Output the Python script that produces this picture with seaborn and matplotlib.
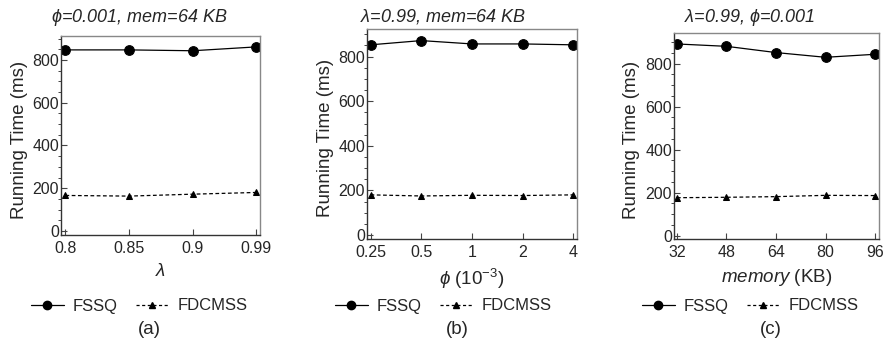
"""
Running time of FSSQ vs FDCMSS under varying lambda, phi and memory.
"""

import numpy as np
import pandas as pd
import matplotlib
matplotlib.use("Agg")
import matplotlib.pyplot as plt
import seaborn as sns
from matplotlib.ticker import MultipleLocator
from matplotlib.lines import Line2D

# panel (a): varying lambda
lam_labels = ["0.8", "0.85", "0.9", "0.99"]
lam_fssq = [847, 847, 843, 861]
lam_fdcmss = [166, 163, 172, 180]

# panel (b): varying phi
phi_labels = ["0.25", "0.5", "1", "2", "4"]
phi_fssq = [853, 872, 857, 857, 853]
phi_fdcmss = [180, 175, 178, 177, 180]

# panel (c): varying memory
mem_labels = ["32", "48", "64", "80", "96"]
mem_fssq = [891, 880, 851, 829, 843]
mem_fdcmss = [176, 178, 181, 187, 186]

sns.set_style("ticks")
plt.rcParams["font.family"] = ["Liberation Sans", "DejaVu Sans"]
plt.rcParams["mathtext.fontset"] = "custom"
plt.rcParams["mathtext.rm"] = "Liberation Sans"
plt.rcParams["mathtext.it"] = "Liberation Sans:italic"
plt.rcParams["mathtext.fallback"] = "stixsans"

TICK_FS = 11.5
LABEL_FS = 13.5
TITLE_FS = 13
LEG_FS = 12
CAP_FS = 13.5

W, H = 883, 347

panels = [
    dict(labels=lam_labels, fssq=lam_fssq, fdcmss=lam_fdcmss,
         title=r"$\phi$=0.001, mem=64 KB", xlabel=r"$\lambda$",
         box=(61, 36, 260, 235), ylim=(-19, 912), xlim=(-0.07, 3.06),
         cap="(a)", leg_x=139, cap_x=149, ylab_x=20),
    dict(labels=phi_labels, fssq=phi_fssq, fdcmss=phi_fdcmss,
         title=r"$\lambda$=0.99, mem=64 KB", xlabel=r"$\phi\ (10^{-3})$",
         box=(367, 29, 577, 239), ylim=(-18, 924), xlim=(-0.07, 4.07),
         cap="(b)", leg_x=443, cap_x=457, ylab_x=326),
    dict(labels=mem_labels, fssq=mem_fssq, fdcmss=mem_fdcmss,
         title=r"$\lambda$=0.99, $\phi$=0.001", xlabel=r"$memory$ (KB)",
         box=(674, 33, 879, 239), ylim=(-16, 942), xlim=(-0.06, 4.08),
         cap="(c)", leg_x=750, cap_x=771, ylab_x=631),
]

fig = plt.figure(figsize=(W / 100, H / 100), dpi=100)

for p in panels:
    x0, y0, x1, y1 = p["box"]
    ax = fig.add_axes([x0 / W, 1 - y1 / H, (x1 - x0) / W, (y1 - y0) / H])
    n = len(p["labels"])
    df = pd.DataFrame({
        "pos": list(range(n)) * 2,
        "time": p["fssq"] + p["fdcmss"],
        "method": ["FSSQ"] * n + ["FDCMSS"] * n,
    })
    sns.lineplot(data=df[df.method == "FSSQ"], x="pos", y="time", ax=ax,
                 color="black", lw=0.9, marker="o", markersize=7,
                 markeredgecolor="black", legend=False)
    sns.lineplot(data=df[df.method == "FDCMSS"], x="pos", y="time", ax=ax,
                 color="black", lw=0.9, linestyle=(0, (3, 2)), marker="^",
                 markersize=5, markeredgecolor="black", legend=False)

    ax.set_xlim(*p["xlim"])
    ax.set_ylim(*p["ylim"])
    ax.set_xticks(range(n))
    ax.set_xticklabels(p["labels"])
    ax.set_yticks([0, 200, 400, 600, 800])
    ax.yaxis.set_minor_locator(MultipleLocator(50))
    ax.tick_params(axis="both", direction="in", labelsize=TICK_FS,
                   color="#444444")
    ax.tick_params(axis="y", which="major", length=4, width=0.8, pad=1.5)
    ax.tick_params(axis="y", which="minor", length=2, width=0.6)
    ax.tick_params(axis="x", which="major", length=4, width=0.8, pad=4)
    for side in ["left", "bottom"]:
        ax.spines[side].set_color("#333333")
        ax.spines[side].set_linewidth(1.0)
    for side in ["top", "right"]:
        ax.spines[side].set_color("#888888")
        ax.spines[side].set_linewidth(1.0)

    ax.set_xlabel(p["xlabel"], fontsize=LABEL_FS, labelpad=5)
    ax.set_ylabel("Running Time (ms)", fontsize=LABEL_FS, va="center")
    ax.yaxis.set_label_coords((p["ylab_x"] - x0) / (x1 - x0), 0.48)

    fig.text(p["leg_x"] / W, 1 - 17 / H, p["title"], ha="center",
             va="center", fontsize=TITLE_FS, style="italic")

    handles = [
        Line2D([], [], color="black", lw=0.9, marker="o", markersize=6),
        Line2D([], [], color="black", lw=0.9, linestyle=(0, (2.5, 2)),
               marker="^", markersize=4),
    ]
    fig.legend(handles, ["FSSQ", "FDCMSS"], loc="center",
               bbox_to_anchor=(p["leg_x"] / W, 1 - 306 / H), ncol=2,
               frameon=False, fontsize=LEG_FS, handlelength=2.0,
               columnspacing=1.1, handletextpad=0.5, borderpad=0)
    fig.text(p["cap_x"] / W, 1 - 330 / H, p["cap"], ha="center",
             va="center", fontsize=CAP_FS)

fig.savefig("out.png", dpi=100)
